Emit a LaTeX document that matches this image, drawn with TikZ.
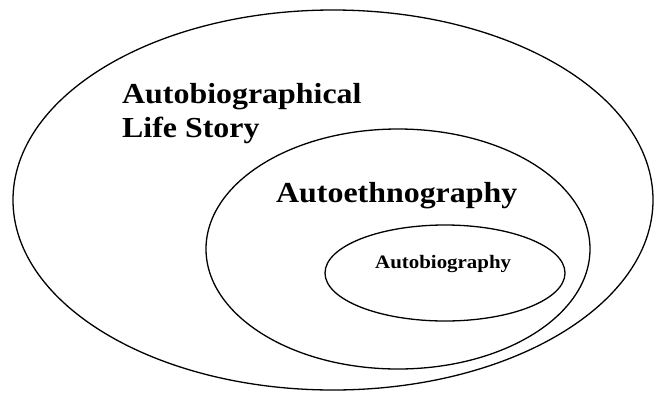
\documentclass[tikz,border=0pt]{standalone}
\usepackage{fontspec}
\setmainfont{Liberation Serif}[FakeStretch=1.1]
\usetikzlibrary{shapes.geometric}
\begin{document}
\begin{tikzpicture}[x=1pt,y=-1pt,
  ring/.style={draw=black, line width=1.3pt, ellipse, inner sep=0pt},
  lbl/.style={inner sep=0pt, anchor=base west, align=left, font=\bfseries}]
\useasboundingbox (0,0) rectangle (654,392);
\node[ring, minimum width=640pt, minimum height=380pt] (outer) at (333,200) {};
\node[ring, minimum width=384pt, minimum height=240pt] (middle) at (398,249) {};
\node[ring, minimum width=240pt, minimum height=96pt] (inner) at (445,273) {};
\node[lbl, font=\bfseries\fontsize{29}{34}\selectfont] (lifestory) at (122,137) {Autobiographical\\Life Story};
\node[lbl, font=\bfseries\fontsize{29}{34}\selectfont] (autoeth) at (276,202) {Autoethnography};
\node[lbl, font=\bfseries\fontsize{19}{22}\selectfont] (autobio) at (375,268) {Autobiography};
\end{tikzpicture}
\end{document}
